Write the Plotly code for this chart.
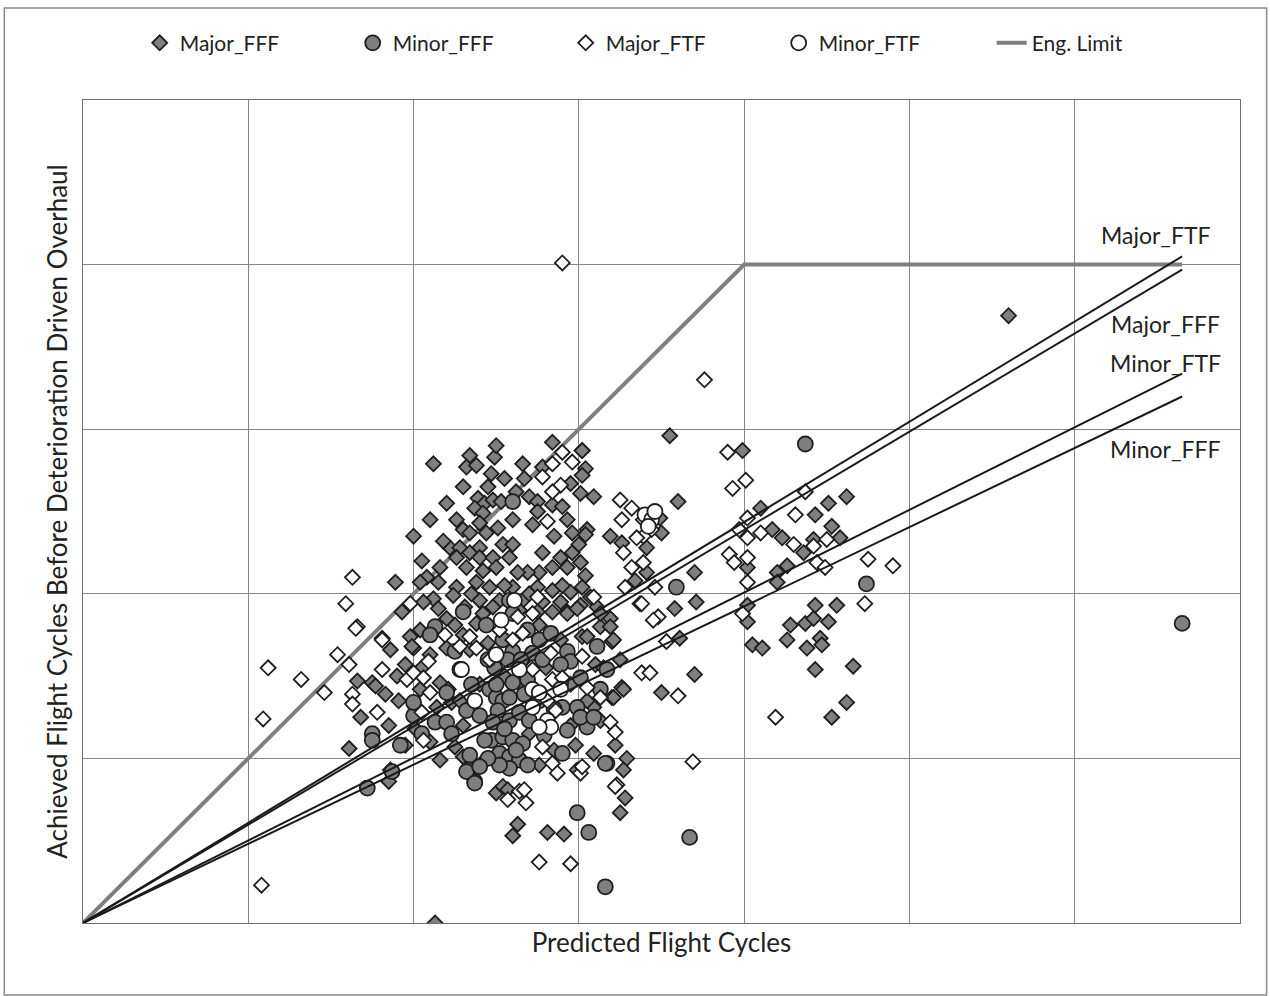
import plotly.graph_objects as go

# ---------------- data (grid units; axes carry no tick labels) ----------------
major_fff = [
    (3.55, 2.96), (3.99, 2.87), (3.02, 2.87), (3.04, 2.76), (3.02, 2.72), (3.09, 2.59), (3.60, 2.56),
    (4.43, 2.48), (4.51, 2.55), (4.62, 2.59), (4.10, 2.52), (4.17, 2.39), (4.23, 2.34), (4.53, 2.41),
    (4.58, 2.34), (4.42, 2.33), (4.36, 2.25), (3.49, 2.46), (3.50, 2.37), (3.19, 2.35), (3.26, 2.31),
    (3.41, 2.28), (3.05, 2.39), (3.04, 2.36), (4.02, 2.16), (3.70, 2.13), (3.41, 2.13), (4.26, 2.17),
    (4.20, 2.13), (4.20, 2.07), (3.34, 2.08), (3.04, 2.11), (3.71, 1.95), (3.58, 1.91), (4.02, 1.93),
    (4.02, 1.83), (4.43, 1.93), (4.56, 1.93), (4.28, 1.81), (4.37, 1.82), (4.42, 1.85), (4.51, 1.83),
    (4.26, 1.72), (4.38, 1.67), (4.46, 1.73), (4.47, 1.69), (4.05, 1.69), (4.11, 1.67), (3.61, 1.73),
    (3.70, 1.51), (4.43, 1.54), (4.66, 1.56), (3.50, 1.40), (3.26, 1.43), (3.20, 1.37), (4.62, 1.34),
    (4.53, 1.25), (3.09, 1.31), (3.20, 1.71), (3.13, 1.80), (3.02, 1.74),
    (2.84, 2.92), (2.12, 2.79), (2.34, 2.84), (2.49, 2.83), (2.32, 2.77), (2.38, 2.78), (2.66, 2.79),
    (2.47, 2.73), (2.30, 2.65), (3.02, 2.87), (2.67, 2.70), (2.78, 2.77), (2.95, 2.67), (3.01, 2.61),
    (2.39, 2.58), (2.43, 2.55), (2.48, 2.57), (2.53, 2.56), (2.70, 2.59), (2.75, 2.56), (2.84, 2.54),
    (2.90, 2.53), (2.37, 2.52), (2.42, 2.49), (2.75, 2.50), (2.60, 2.45), (2.26, 2.45), (2.40, 2.43),
    (2.51, 2.40), (2.30, 2.39), (2.34, 2.37), (2.44, 2.37), (2.93, 2.45), (2.96, 2.37), (2.00, 2.35),
    (2.54, 2.30), (2.22, 2.28), (2.28, 2.28), (2.34, 2.25), (2.40, 2.28), (2.26, 2.22), (2.40, 2.22),
    (2.48, 2.22), (2.58, 2.22), (2.78, 2.25), (2.89, 2.22), (2.96, 2.25), (3.01, 2.19), (2.93, 2.16),
    (2.84, 2.16), (2.76, 2.13), (2.69, 2.13), (2.63, 2.13), (2.42, 2.14), (2.32, 2.16), (2.50, 2.16),
    (2.16, 2.16), (2.08, 2.10), (1.89, 2.07), (2.04, 2.07), (2.15, 2.07), (2.26, 2.04), (2.38, 2.07),
    (2.46, 2.04), (2.60, 2.04), (2.75, 2.04), (2.84, 2.02), (2.95, 2.01), (3.02, 2.04), (3.07, 1.98),
    (2.12, 1.97), (2.24, 1.99), (2.40, 1.96), (2.52, 1.96), (2.66, 1.96), (2.78, 1.95), (2.89, 1.95),
    (3.01, 1.93), (3.11, 1.92), (3.19, 1.85), (2.15, 1.91), (2.31, 1.92), (2.64, 1.90), (2.75, 1.89),
    (2.84, 1.89), (2.93, 1.89), (2.06, 1.95),
    (1.86, 0.93), (1.85, 0.86), (2.00, 1.67), (1.98, 1.74), (2.20, 1.67), (2.16, 1.46), (2.21, 1.42),
    (2.23, 1.34), (2.28, 1.35), (2.14, 1.31), (2.38, 1.82), (2.48, 1.92), (2.93, 1.88), (3.05, 1.74),
    (3.21, 1.72), (3.19, 1.80), (3.27, 1.42), (3.21, 1.37), (3.29, 1.00), (3.27, 0.93), (3.09, 1.03),
    (2.99, 0.93), (2.50, 0.79), (2.54, 0.83), (2.30, 1.01), (2.25, 1.07), (2.99, 1.91), (2.42, 1.88),
    (3.13, 1.88),
    (2.13, 0.00), (2.57, 0.81), (2.63, 0.60), (2.60, 0.53), (2.81, 0.55), (2.91, 0.54), (3.28, 0.76),
    (3.25, 0.67),
    (1.66, 1.47), (1.75, 1.46), (1.77, 1.44), (1.83, 1.39), (1.68, 1.25), (1.61, 1.06), (1.99, 1.68),
    (5.60, 3.69),
    (2.04, 1.78), (2.10, 1.63), (1.95, 1.57), (2.04, 1.42), (1.91, 1.35), (2.01, 1.18), (1.95, 1.08),
    (2.34, 1.66), (2.25, 1.81), (2.76, 1.81), (2.67, 1.60), (2.89, 1.72), (3.10, 1.57), (3.13, 1.23),
    (3.22, 1.08), (2.98, 1.08), (2.40, 0.96), (2.16, 0.99), (2.76, 0.96), (1.93, 1.89), (1.86, 1.66),
    (2.05, 2.20), (2.18, 2.32), (2.10, 2.45), (2.45, 2.65), (2.55, 2.70), (2.62, 2.62), (2.72, 2.42),
    (2.85, 2.35), (2.90, 2.05), (2.70, 2.00), (2.55, 2.05), (2.35, 2.00), (2.20, 1.85), (2.30, 1.75),
    (2.45, 1.70), (2.55, 1.50), (2.65, 1.45), (2.80, 1.55), (2.95, 1.45), (3.05, 1.35), (2.95, 1.20),
    (2.85, 1.05), (2.70, 1.15), (2.40, 1.45), (2.30, 1.20), (2.10, 1.10), (2.05, 1.55), (1.90, 1.50),
    (1.85, 1.20), (3.15, 1.55), (3.25, 1.60), (3.00, 2.30), (2.60, 2.30), (2.20, 2.55), (2.50, 2.90),
]

minor_fff = [
    (4.37, 2.91), (3.59, 2.04), (4.74, 2.06), (6.65, 1.82), (2.60, 2.56), (2.58, 1.96), (2.30, 1.89),
    (1.92, 1.08), (2.44, 1.81), (2.54, 1.72), (2.60, 1.65), (2.57, 1.60), (2.49, 1.55), (2.46, 1.42),
    (2.50, 1.37), (2.54, 1.35), (2.58, 1.37), (2.51, 1.29), (2.48, 1.22), (2.58, 1.23), (2.64, 1.28),
    (2.47, 1.11), (2.54, 1.13), (2.60, 1.11), (2.66, 1.09), (2.52, 1.03), (2.58, 1.01), (2.64, 0.99),
    (2.69, 0.96), (2.58, 0.94), (2.52, 0.96), (2.34, 1.02), (2.33, 0.93), (2.37, 0.86), (2.00, 1.26),
    (2.13, 1.22), (2.20, 1.22), (2.23, 1.15), (2.00, 1.34), (2.32, 1.29), (2.28, 1.54), (2.93, 1.65),
    (2.95, 1.59), (2.89, 1.57), (3.01, 1.49), (3.11, 1.68), (3.17, 1.54), (3.13, 1.42), (2.89, 1.46),
    (2.90, 1.31), (2.99, 1.31), (2.93, 1.17), (2.90, 1.03), (3.05, 1.19), (3.01, 1.25), (3.09, 1.25),
    (3.17, 0.97), (2.69, 1.48), (2.60, 1.46), (2.60, 1.88), (2.69, 1.78), (2.76, 1.72), (2.83, 1.76),
    (2.72, 1.64), (2.32, 0.92), (2.37, 0.85), (2.99, 0.67), (3.06, 0.55), (3.67, 0.52), (3.16, 0.22),
    (3.16, 0.97), (1.75, 1.15), (1.75, 1.11), (1.72, 0.82), (1.87, 0.92), (2.13, 1.80), (2.76, 1.35),
    (2.70, 1.23), (2.79, 1.14), (2.43, 1.11), (2.40, 1.26), (2.67, 1.39), (2.10, 1.75),
    (2.45, 1.00), (2.55, 1.18), (2.62, 1.05), (2.40, 0.95), (2.50, 1.45), (2.65, 1.60), (2.78, 1.60),
    (2.85, 1.30), (2.45, 1.60), (2.35, 1.45), (2.20, 1.40), (2.25, 1.65), (2.05, 1.15),
]

major_ftf = [
    (2.90, 4.01), (3.76, 3.30), (1.08, 0.23), (1.63, 2.10), (1.59, 1.94), (1.66, 1.80), (1.65, 1.79),
    (1.81, 1.73), (1.54, 1.63), (1.61, 1.57), (1.12, 1.55), (1.32, 1.48), (1.46, 1.40), (1.81, 1.54),
    (1.96, 1.48), (1.63, 1.39), (1.63, 1.33), (1.78, 1.28), (1.09, 1.24), (2.00, 1.52),
    (3.90, 2.86), (3.93, 2.64), (4.01, 2.69), (3.25, 2.57), (3.32, 2.52), (3.26, 2.45), (3.39, 2.45),
    (3.44, 2.39), (3.39, 2.35), (3.27, 2.25), (4.37, 2.62), (4.31, 2.48), (4.02, 2.46), (3.97, 2.39),
    (4.10, 2.37), (4.02, 2.34), (4.50, 2.33), (4.30, 2.30), (4.42, 2.29), (3.91, 2.24), (3.94, 2.19),
    (4.02, 2.22), (4.44, 2.19), (4.49, 2.16), (4.75, 2.21), (4.90, 2.17), (4.02, 2.07), (3.32, 2.16),
    (3.28, 2.04), (3.46, 2.04), (3.37, 1.94), (3.48, 1.86), (4.73, 1.94), (3.99, 1.88), (3.53, 1.71),
    (3.38, 1.52), (3.43, 1.52), (3.60, 1.38), (4.19, 1.25),
    (2.90, 2.86), (2.84, 2.79), (2.78, 2.71), (2.89, 2.66), (2.84, 2.62), (2.81, 2.44), (3.35, 2.34),
    (3.39, 2.19), (1.98, 1.94), (2.75, 1.98), (3.09, 1.98), (3.38, 1.94),
    (1.81, 1.72), (2.06, 1.49), (2.09, 1.59), (2.10, 1.40), (2.05, 1.28), (2.06, 1.11), (2.28, 1.68),
    (2.34, 1.74), (2.38, 1.67), (2.60, 1.72), (2.63, 1.86), (2.72, 1.88), (2.66, 1.76), (2.72, 1.54),
    (2.83, 1.64), (2.84, 1.48), (2.90, 1.49), (2.81, 1.35), (2.86, 1.29), (3.02, 1.62), (3.05, 1.43),
    (3.13, 1.37), (3.19, 1.22), (3.22, 1.16), (3.45, 1.84), (2.78, 1.07), (2.84, 0.97), (2.87, 0.91),
    (3.01, 0.91), (3.23, 0.84), (2.64, 0.80),
    (2.57, 0.75), (2.68, 0.73), (2.67, 0.81), (2.76, 0.37), (2.95, 0.36), (3.22, 0.83), (3.02, 0.95),
    (3.69, 0.98), (2.96, 2.80), (2.19, 1.75), (2.46, 1.60), (2.52, 1.78),
]

minor_ftf = [
    (2.29, 1.54), (2.37, 1.35), (2.53, 1.84), (2.72, 1.42), (2.76, 1.40), (2.72, 1.31), (2.81, 1.23),
    (2.83, 1.19), (2.76, 1.19), (3.40, 2.48), (3.44, 2.45), (3.42, 2.41), (3.46, 2.50), (2.64, 1.54),
    (2.61, 1.96), (2.89, 1.42), (2.50, 1.63),
]

# Engine limit polyline
eng_x = [0, 4.0, 6.65]
eng_y = [0, 4.0, 4.0]

# Trend lines through origin (name, slope)
trend_names = ["Major_FTF", "Major_FFF", "Minor_FTF", "Minor_FFF"]
trend_slopes = [0.609, 0.597, 0.502, 0.481]
trend_xmax = 6.65
label_x = [6.49, 6.55, 6.55, 6.55]
label_y = [4.18, 3.64, 3.40, 2.88]

# ---------------- figure ----------------
FONT = "Lato, 'Open Sans', sans-serif"
OUT = "#1e1e1e"
GREY = "#7f7f7f"

fig = go.Figure()

def xs(pts):
    return [p[0] for p in pts]

def ys(pts):
    return [p[1] for p in pts]

fig.add_trace(go.Scatter(
    x=eng_x, y=eng_y, mode="lines", name="Eng. Limit",
    line=dict(color="#7f7f7f", width=4), legendrank=5))

fig.add_trace(go.Scatter(
    x=xs(major_fff), y=ys(major_fff), mode="markers", name="Major_FFF",
    marker=dict(symbol="diamond", size=11.5, color=GREY, line=dict(color=OUT, width=1.8)),
    legendrank=1))
fig.add_trace(go.Scatter(
    x=xs(minor_fff), y=ys(minor_fff), mode="markers", name="Minor_FFF",
    marker=dict(symbol="circle", size=15, color=GREY, line=dict(color=OUT, width=1.8)),
    legendrank=2))
fig.add_trace(go.Scatter(
    x=xs(major_ftf), y=ys(major_ftf), mode="markers", name="Major_FTF",
    marker=dict(symbol="diamond", size=11.5, color="white", line=dict(color=OUT, width=1.8)),
    legendrank=3))
fig.add_trace(go.Scatter(
    x=xs(minor_ftf), y=ys(minor_ftf), mode="markers", name="Minor_FTF",
    marker=dict(symbol="circle", size=15, color="white", line=dict(color=OUT, width=1.8)),
    legendrank=4))

for nm, s in zip(trend_names, trend_slopes):
    fig.add_trace(go.Scatter(
        x=[0, trend_xmax], y=[0, s * trend_xmax], mode="lines", name=nm,
        line=dict(color="#1a1a1a", width=2), showlegend=False, hoverinfo="skip"))

for nm, lx, ly in zip(trend_names, label_x, label_y):
    fig.add_annotation(x=lx, y=ly, text=nm, showarrow=False,
                       font=dict(family=FONT, size=23, color="#222222"))

axis_common = dict(showgrid=True, gridcolor="#858585", gridwidth=1, zeroline=False,
                   showticklabels=False, ticks="", showline=True, mirror=True,
                   linecolor="#707070", linewidth=1.2)

fig.update_layout(
    width=1270, height=996,
    margin=dict(l=83, r=30, t=100, b=73),
    paper_bgcolor="white", plot_bgcolor="white",
    font=dict(family=FONT, size=20, color="#222222"),
    xaxis=dict(range=[0, 7], dtick=1, title=dict(text="Predicted Flight Cycles",
               font=dict(size=26), standoff=10), **axis_common),
    yaxis=dict(range=[0, 5], dtick=1, title=dict(
        text="Achieved Flight Cycles Before Deterioration Driven Overhaul",
        font=dict(size=26), standoff=6), **axis_common),
    legend=dict(orientation="h", x=0.049, xanchor="left", y=1.069, yanchor="middle",
                font=dict(size=21), entrywidth=168, entrywidthmode="pixels",
                bgcolor="rgba(0,0,0,0)"),
    showlegend=True,
)

# outer chart border
fig.add_shape(type="rect", xref="paper", yref="paper",
              x0=-0.068, x1=1.023, y0=-0.0875, y1=1.1118,
              line=dict(color="#8a8a8a", width=1.5), fillcolor="rgba(0,0,0,0)", layer="below")

fig.write_html("out.html")
